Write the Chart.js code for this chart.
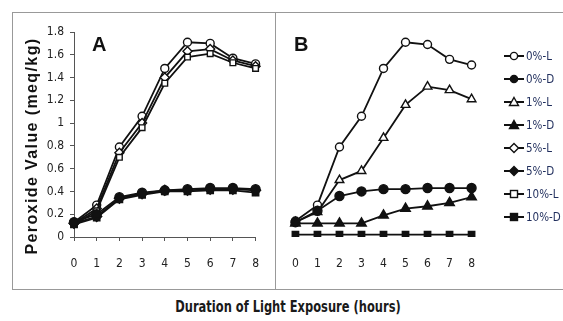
<!DOCTYPE html>
<html>
<head>
<meta charset="utf-8">
<script src="https://cdn.jsdelivr.net/npm/chart.js@4.4.1/dist/chart.umd.min.js"></script>
<style>
  body { margin: 0; background: #fff; width: 563px; height: 321px; overflow: hidden; position: relative; font-family: 'DejaVu Sans Condensed', 'Liberation Sans', Arial, sans-serif; }
  #frame { position: absolute; left: 12px; top: 12px; width: 570px; height: 276px; border: 1px solid #999; border-right: none; }
  #divider { position: absolute; left: 275px; top: 12px; width: 1px; height: 277px; background: #999; }
  .box { position: absolute; top: 13px; height: 276px; }
  #boxA { left: 13px; width: 262px; }
  #boxB { left: 276px; width: 215px; }
  .panel { position: absolute; font: bold 20px 'Liberation Sans', Arial, sans-serif; color: #111; }
  #xtitle { position: absolute; left: 138px; width: 300px; top: 298px; text-align: center; font: bold 15px 'DejaVu Sans Condensed', 'Liberation Sans', sans-serif; color: #1a1a1a; white-space: nowrap; transform: scaleX(0.85); }
  #ytitle { position: absolute; left: 33px; top: 146px; width: 240px; margin-left: -120px; margin-top: -10px; height: 20px; line-height: 20px; text-align: center; transform: rotate(-90deg); font: bold 16px 'Liberation Sans', Arial, sans-serif; letter-spacing: 1.4px; color: #111; white-space: nowrap; }
  #legend { position: absolute; left: 504px; top: 44px; }
  .item { height: 23px; display: flex; align-items: center; font-size: 11.5px; color: #1f2d5c; }
  .item svg { margin-right: 2px; }
</style>
</head>
<body>
<div id="frame"></div>
<div id="divider"></div>
<div class="box" id="boxA"><canvas id="chartA"></canvas></div>
<div class="box" id="boxB"><canvas id="chartB"></canvas></div>
<div class="panel" style="left:92px;top:33px">A</div>
<div class="panel" style="left:294px;top:33px">B</div>
<div id="ytitle">Peroxide Value (meq/kg)</div>
<div id="legend"></div>
<div id="xtitle">Duration of Light Exposure (hours)</div>
<script>
  const hours = ['0', '1', '2', '3', '4', '5', '6', '7', '8'];
  const yTicks = ['0', '0.2', '0.4', '0.6', '0.8', '1', '1.2', '1.4', '1.6', '1.8'];
  const seriesNames = ['0%-L', '0%-D', '1%-L', '1%-D', '5%-L', '5%-D', '10%-L', '10%-D'];

  // Panel A
  const a0L = [0.13, 0.28, 0.79, 1.06, 1.48, 1.71, 1.70, 1.57, 1.52];
  const a0D = [0.13, 0.20, 0.35, 0.39, 0.41, 0.42, 0.43, 0.43, 0.42];
  const a5L = [0.12, 0.25, 0.74, 1.00, 1.40, 1.63, 1.65, 1.55, 1.50];
  const a5D = [0.12, 0.18, 0.34, 0.38, 0.41, 0.41, 0.42, 0.42, 0.41];
  const a10L = [0.11, 0.23, 0.70, 0.96, 1.35, 1.58, 1.61, 1.53, 1.48];
  const a10D = [0.11, 0.17, 0.33, 0.37, 0.40, 0.40, 0.41, 0.41, 0.39];

  // Panel B
  const b0L = [0.14, 0.28, 0.79, 1.06, 1.48, 1.71, 1.69, 1.56, 1.51];
  const b0D = [0.13, 0.23, 0.36, 0.40, 0.42, 0.42, 0.43, 0.43, 0.43];
  const b1L = [0.13, 0.22, 0.50, 0.58, 0.87, 1.16, 1.32, 1.29, 1.21];
  const b1D = [0.12, 0.12, 0.12, 0.12, 0.19, 0.25, 0.27, 0.30, 0.35];
  const b10D = [0.02, 0.02, 0.02, 0.02, 0.02, 0.02, 0.02, 0.02, 0.02];

  const marker = {
    '0%-L': { shape: 'circle', open: true, r: 4 },
    '0%-D': { shape: 'circle', open: false, r: 4.5 },
    '1%-L': { shape: 'triangle', open: true, r: 5 },
    '1%-D': { shape: 'triangle', open: false, r: 5.5 },
    '5%-L': { shape: 'rectRot', open: true, r: 4.5 },
    '5%-D': { shape: 'rectRot', open: false, r: 5 },
    '10%-L': { shape: 'rect', open: true, r: 4 },
    '10%-D': { shape: 'rect', open: false, r: 4.5 }
  };

  function ds(name, data) {
    const m = marker[name];
    return {
      label: name,
      data: data,
      borderColor: '#111',
      borderWidth: 1.8,
      pointStyle: m.shape,
      pointRadius: m.r,
      pointBorderWidth: 1.4,
      pointBorderColor: '#111',
      pointBackgroundColor: m.open ? '#fff' : '#111',
      tension: 0
    };
  }

  const tickFont = { family: "'DejaVu Sans Condensed', 'Liberation Sans', sans-serif", size: 12 };

  function xScale(showLine) {
    return {
      ticks: { font: tickFont, color: '#222', padding: 16, maxRotation: 0, autoSkip: false },
      grid: { drawOnChartArea: false, drawTicks: true, tickLength: 4, color: showLine ? '#555' : 'transparent' },
      border: { display: showLine, color: '#555' },
      afterFit: s => { s.height = 52; }
    };
  }

  const baseOptions = {
    responsive: true,
    maintainAspectRatio: false,
    animation: false,
    plugins: { legend: { display: false }, tooltip: { enabled: false } }
  };

  new Chart(document.getElementById('chartA'), {
    type: 'line',
    data: {
      labels: hours,
      datasets: [
        ds('0%-D', a0D), ds('5%-D', a5D), ds('10%-D', a10D),
        ds('10%-L', a10L), ds('5%-L', a5L), ds('0%-L', a0L)
      ]
    },
    options: {
      ...baseOptions,
      layout: { padding: { left: 10, right: 11, top: 19, bottom: 0 } },
      scales: {
        x: xScale(true),
        y: {
          min: 0, max: 1.8,
          ticks: { stepSize: 0.2, font: tickFont, color: '#222', padding: 6,
                   callback: (v, i) => yTicks[i] },
          grid: { drawOnChartArea: false, tickLength: 4, color: '#555' },
          border: { color: '#555' },
          afterFit: s => { s.width = 51; }
        }
      }
    }
  });

  new Chart(document.getElementById('chartB'), {
    type: 'line',
    data: {
      labels: hours,
      datasets: [
        ds('10%-D', b10D), ds('1%-D', b1D), ds('0%-D', b0D),
        ds('1%-L', b1L), ds('0%-L', b0L)
      ]
    },
    options: {
      ...baseOptions,
      layout: { padding: { left: 8, right: 12, top: 19, bottom: 0 } },
      scales: {
        x: xScale(false),
        y: { display: false, min: 0, max: 1.8 }
      }
    }
  });

  // Legend
  function glyph(name) {
    const m = marker[name];
    const fill = m.open ? '#fff' : '#111';
    let shape;
    if (m.shape === 'circle') shape = `<circle cx="10" cy="6" r="3.6" fill="${fill}" stroke="#111" stroke-width="1.4"/>`;
    else if (m.shape === 'triangle') shape = `<polygon points="10,1.5 14.5,9.5 5.5,9.5" fill="${fill}" stroke="#111" stroke-width="1.4"/>`;
    else if (m.shape === 'rectRot') shape = `<polygon points="10,1.5 14.5,6 10,10.5 5.5,6" fill="${fill}" stroke="#111" stroke-width="1.4"/>`;
    else shape = `<rect x="6.5" y="2.5" width="7" height="7" fill="${fill}" stroke="#111" stroke-width="1.4"/>`;
    return `<svg width="20" height="12"><line x1="0" y1="6" x2="20" y2="6" stroke="#111" stroke-width="2"/>${shape}</svg>`;
  }
  const legend = document.getElementById('legend');
  seriesNames.forEach(name => {
    const div = document.createElement('div');
    div.className = 'item';
    div.innerHTML = glyph(name) + `<span>${name}</span>`;
    legend.appendChild(div);
  });
</script>
</body>
</html>
